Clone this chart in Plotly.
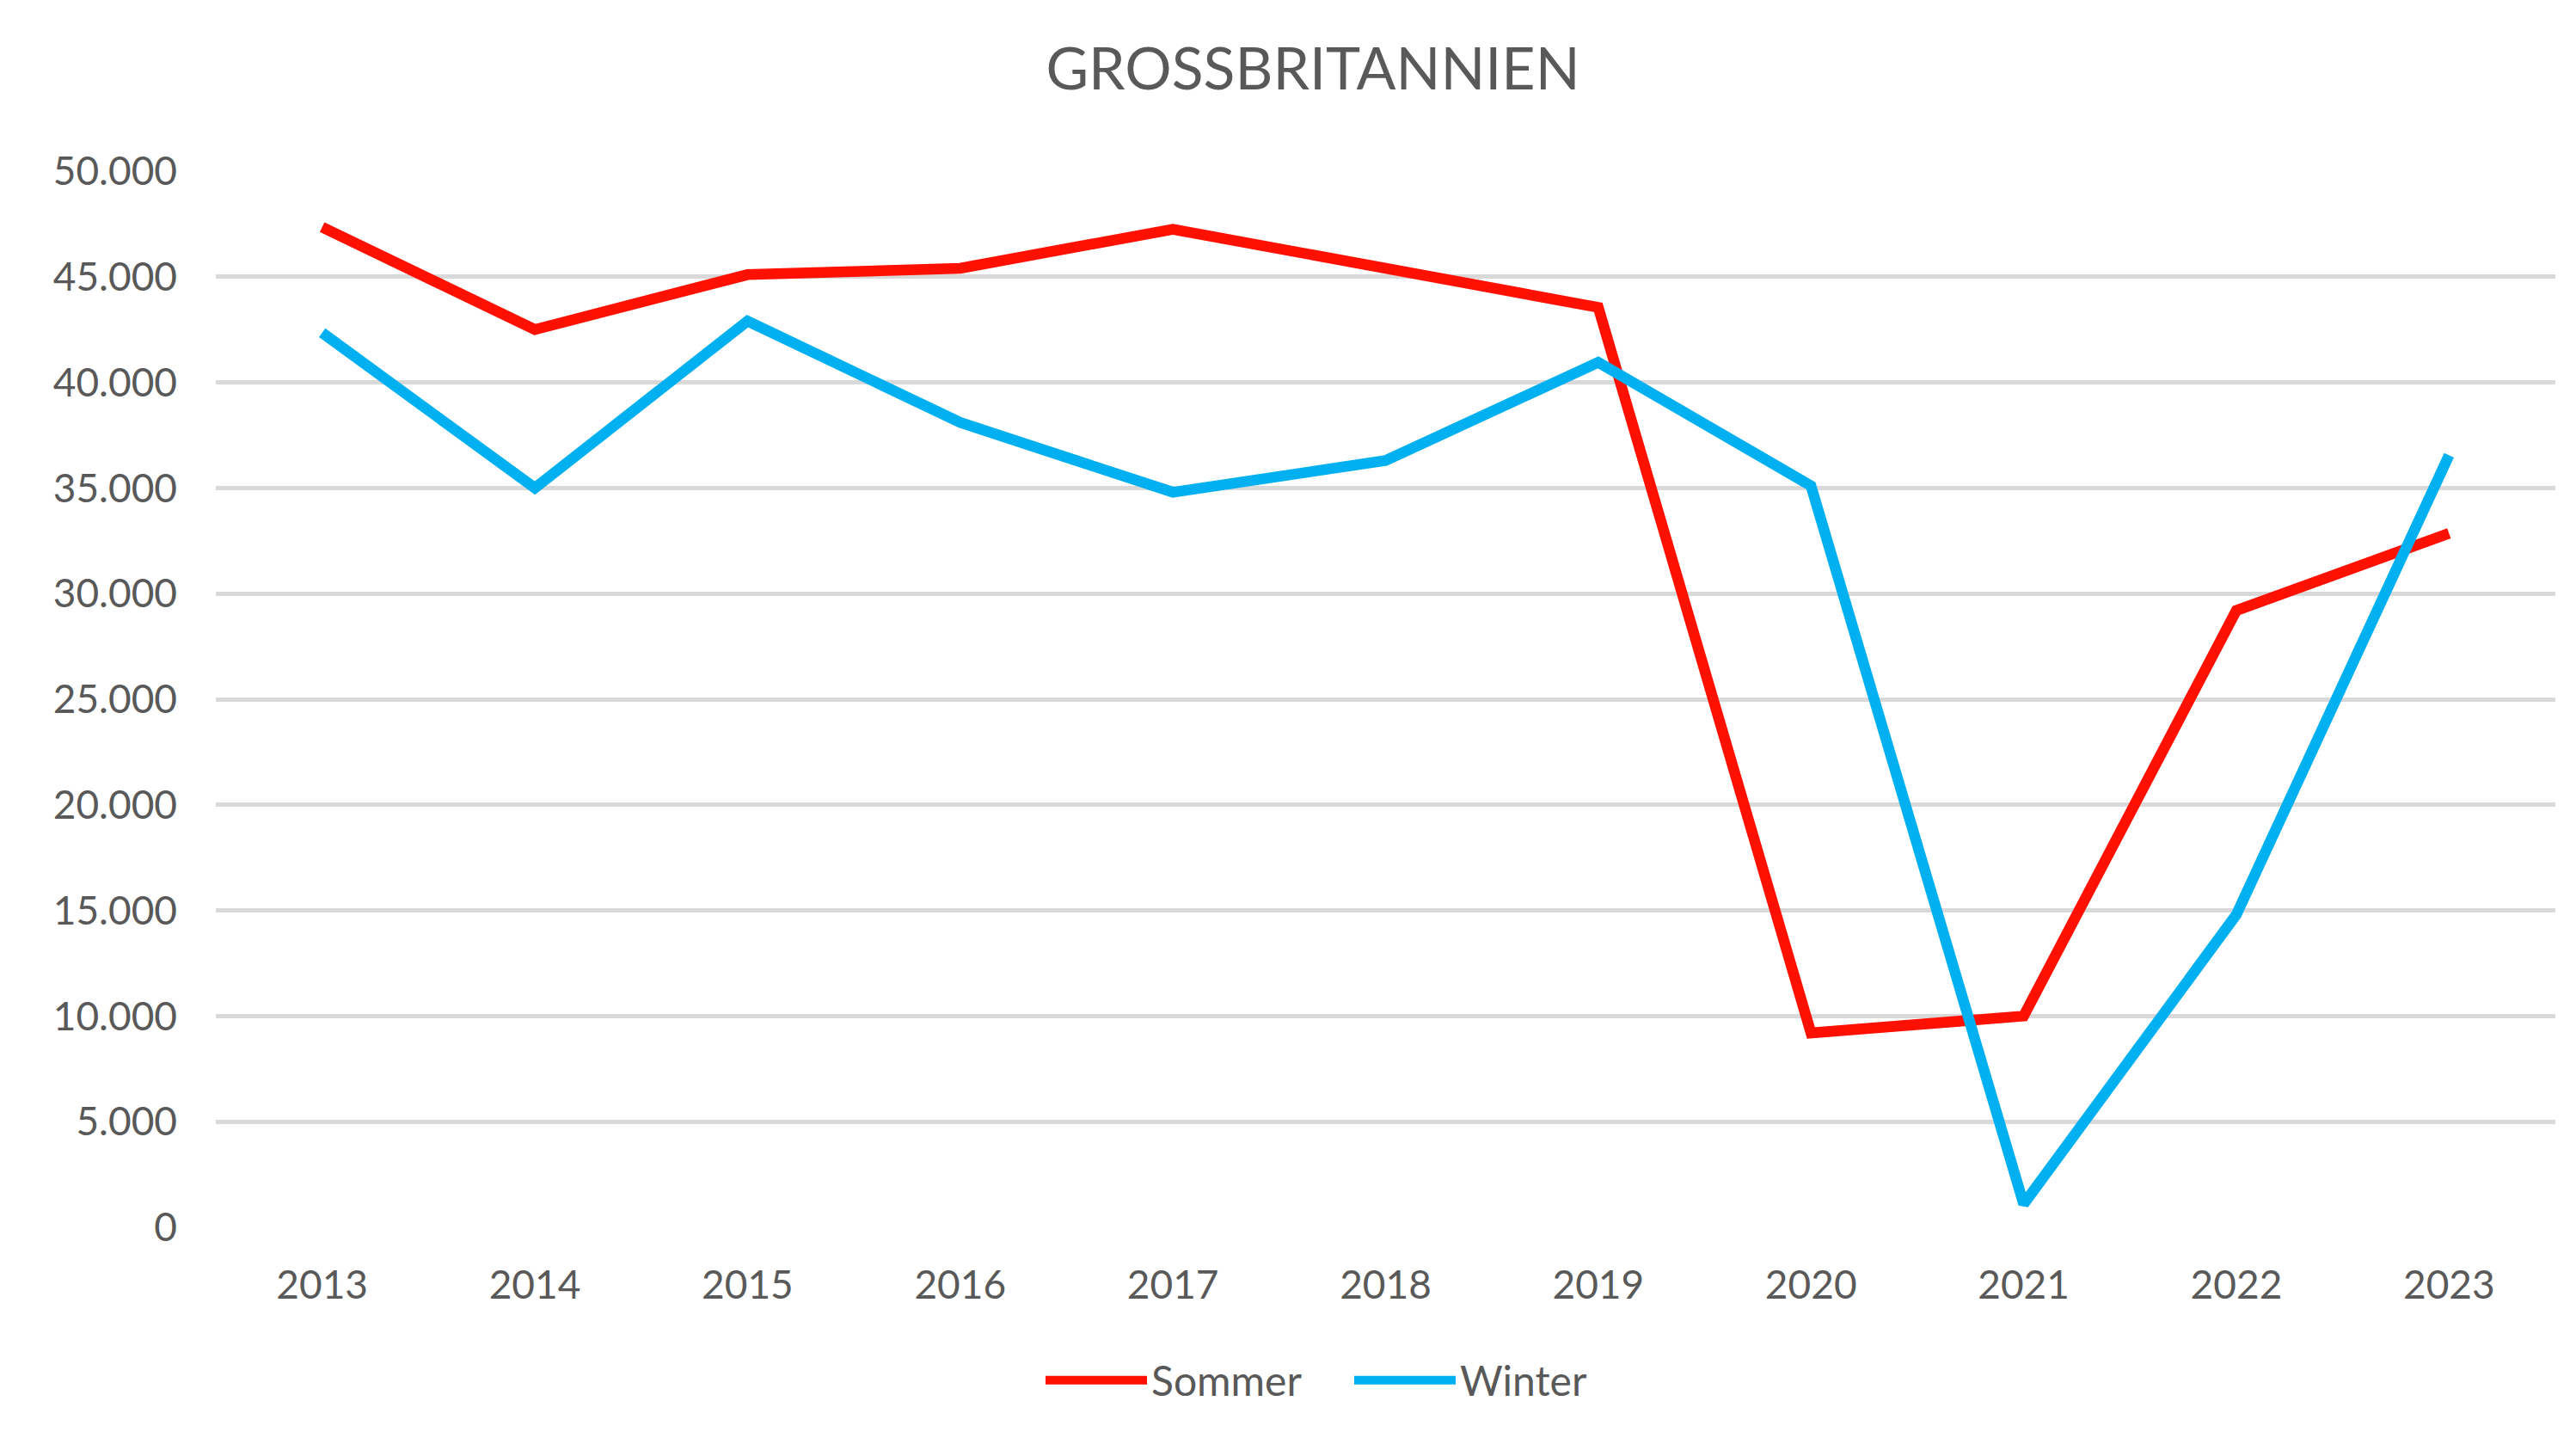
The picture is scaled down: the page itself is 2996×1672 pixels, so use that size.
import plotly.graph_objects as go

years = ["2013", "2014", "2015", "2016", "2017", "2018", "2019", "2020", "2021", "2022", "2023"]
sommer = [47350, 42500, 45100, 45400, 47250, 45400, 43550, 9200, 10000, 29200, 32850]
winter = [42350, 35000, 42900, 38100, 34800, 36300, 40950, 35100, 1100, 14800, 36550]
y_tickvals = [0, 5000, 10000, 15000, 20000, 25000, 30000, 35000, 40000, 45000, 50000]
y_ticktext = ["0", "5.000", "10.000", "15.000", "20.000", "25.000", "30.000", "35.000", "40.000", "45.000", "50.000"]

FONT = "Lato"
TXT = "#595959"

fig = go.Figure()
fig.add_trace(go.Scatter(x=years, y=sommer, name="Sommer", mode="lines",
                         line=dict(color="#FF1000", width=12.5), cliponaxis=False))
fig.add_trace(go.Scatter(x=years, y=winter, name="Winter", mode="lines",
                         line=dict(color="#00B0F0", width=12.5), cliponaxis=False))

fig.update_layout(
    width=2996, height=1672,
    paper_bgcolor="white", plot_bgcolor="white",
    margin=dict(l=251, r=24, t=199, b=245),
    title=dict(text="GROSSBRITANNIEN", x=1527 / 2996, xanchor="center",
               y=1 - 80 / 1672, yanchor="middle",
               font=dict(family=FONT, size=68, color=TXT)),
    font=dict(family=FONT, size=46, color=TXT),
    showlegend=True,
    legend=dict(orientation="h", x=(1570 - 251) / 2721, xanchor="center",
                y=(1427 - 1605) / 1228, yanchor="middle",
                font=dict(family=FONT, size=48, color=TXT),
                itemwidth=118, tracegroupgap=0,
                entrywidth=226, entrywidthmode="pixels"),
    xaxis=dict(type="category", range=[-0.5, 10.5], showgrid=False, zeroline=False,
               showline=False, ticks="", ticklabelstandoff=36,
               tickfont=dict(family=FONT, size=46, color=TXT), fixedrange=True),
    yaxis=dict(range=[0, 50000], tickvals=y_tickvals, ticktext=y_ticktext,
               showgrid=True, gridcolor="#D9D9D9", gridwidth=4.5,
               zeroline=False, showline=False, ticks="", ticklabelstandoff=44,
               tickfont=dict(family=FONT, size=46, color=TXT), fixedrange=True),
)

fig.write_html("out.html", config={"displayModeBar": False},
               post_script="document.body.style.margin='0px';")
